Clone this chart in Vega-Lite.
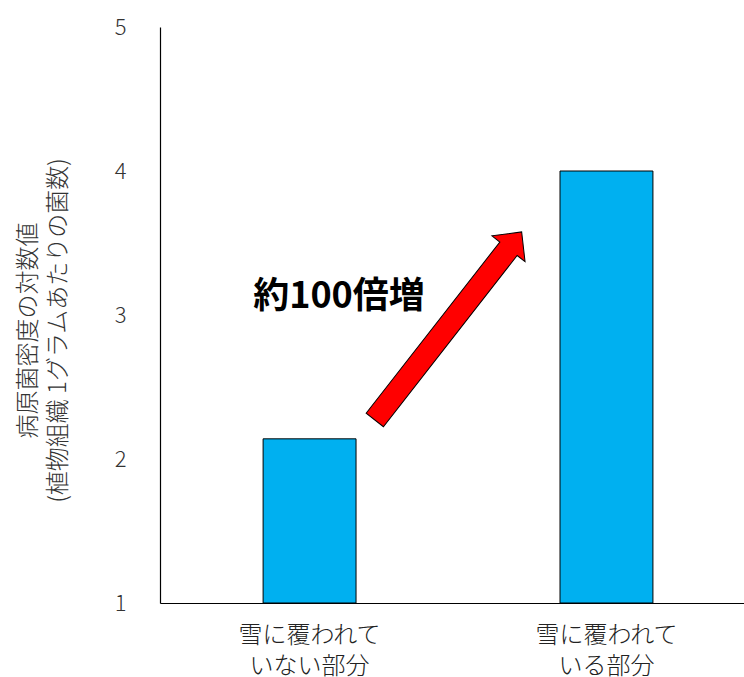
{
  "$schema": "https://vega.github.io/schema/vega-lite/v6.json",
  "description": "雪に覆われている部分と覆われていない部分の病原菌密度",
  "autosize": "none",
  "padding": {"left": 160, "top": 27, "right": 0, "bottom": 74},
  "width": 584,
  "height": 576,
  "background": "white",
  "datasets": {
    "bars": [
      {"part": "雪に覆われて\nいない部分", "value": 2.14},
      {"part": "雪に覆われて\nいる部分", "value": 4.0}
    ],
    "arrow": [{"x": 0.987, "y": 2.924}],
    "note": [{"x": 0.613, "y": 3.125, "label": "約100倍増"}]
  },
  "layer": [
    {
      "mark": {"type": "rule", "color": "black", "strokeWidth": 1},
      "encoding": {"y": {"datum": 5}}
    },
    {
      "data": {"name": "bars"},
      "mark": {"type": "bar", "fill": "#00B0F0", "stroke": "black", "strokeWidth": 1},
      "encoding": {
        "x": {
          "field": "part",
          "type": "nominal",
          "sort": null,
          "scale": {"paddingInner": 0.687, "paddingOuter": 0.327, "align": 0.531},
          "axis": {
            "title": null,
            "labelAngle": 0,
            "labelExpr": "split(datum.label, '\\n')",
            "labelFontSize": 24,
            "labelFontWeight": 300,
            "labelColor": "#222222",
            "labelLineHeight": 31,
            "labelPadding": 20,
            "ticks": false,
            "domainColor": "black",
            "domainWidth": 1.2
          }
        },
        "y": {
          "field": "value",
          "type": "quantitative",
          "scale": {"domain": [1, 5], "zero": false, "nice": false},
          "axis": {
            "title": ["病原菌密度の対数値", "(植物組織 1グラムあたりの菌数)"],
            "titleFontSize": 24,
            "titleFontWeight": 300,
            "titleColor": "#333333",
            "titleLineHeight": 30,
            "titleX": -132,
            "titleY": 303,
            "titleAngle": -90,
            "titleAlign": "center",
            "titleBaseline": "middle",
            "values": [1, 2, 3, 4, 5],
            "format": "d",
            "labelFontSize": 22,
            "labelFontWeight": 300,
            "labelColor": "#333333",
            "labelPadding": 34,
            "ticks": false,
            "grid": false,
            "domainColor": "black",
            "domainWidth": 1.2
          }
        },
        "y2": {"datum": 1}
      }
    },
    {
      "data": {"name": "arrow"},
      "mark": {
        "type": "point",
        "filled": true,
        "shape": "M -1 -0.092 L 0.821 -0.092 L 0.821 -0.176 L 1 0 L 0.821 0.176 L 0.821 0.092 L -1 0.092 Z",
        "size": 56930,
        "angle": 308,
        "fill": "#FF0000",
        "stroke": "black",
        "strokeWidth": 1,
        "opacity": 1
      },
      "encoding": {
        "x": {"field": "x", "type": "quantitative", "scale": {"domain": [0, 2], "nice": false, "zero": false}, "axis": null},
        "y": {"field": "y", "type": "quantitative"}
      }
    },
    {
      "data": {"name": "note"},
      "mark": {"type": "text", "fontSize": 36, "fontWeight": "bold", "color": "black", "align": "center", "baseline": "middle"},
      "encoding": {
        "x": {"field": "x", "type": "quantitative", "scale": {"domain": [0, 2], "nice": false, "zero": false}, "axis": null},
        "y": {"field": "y", "type": "quantitative"},
        "text": {"field": "label"}
      }
    }
  ],
  "resolve": {"scale": {"x": "independent"}},
  "config": {
    "view": {"stroke": null},
    "font": "Noto Sans CJK JP"
  }
}
